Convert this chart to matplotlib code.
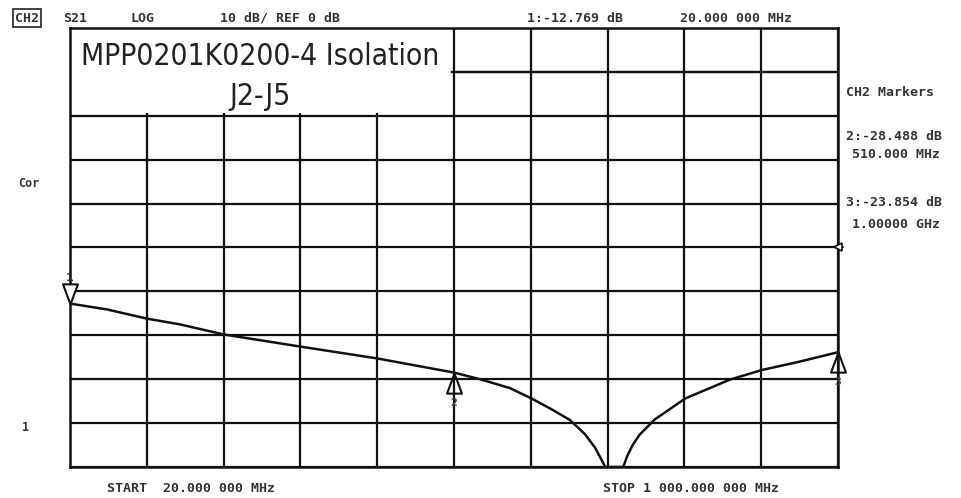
import numpy as np
import matplotlib.pyplot as plt
from matplotlib.patches import Rectangle
from matplotlib import font_manager

# S21 trace (MHz, dB)
freq_mhz = [20, 67, 118, 160, 216, 315, 413, 510, 543, 581, 609, 635, 658, 677,
            690, 696, 703, 726, 731, 738, 747, 766, 805, 862, 903, 951, 1000]
s21_db = [-12.77, -14.1, -16.2, -17.5, -19.8, -22.6, -25.3, -28.49, -30.0, -32.0,
          -34.4, -36.9, -39.3, -42.5, -45.6, -47.6, -50.0, -50.0, -47.5, -45.0,
          -42.6, -39.2, -34.4, -30.1, -27.9, -26.0, -23.85]

marker_freq = [20, 510, 1000]
marker_db = [-12.769, -28.488, -23.854]
marker_names = ['1', '2', '3']

W, H = 961, 498
fig = plt.figure(figsize=(W / 100, H / 100), dpi=100)
ax = fig.add_axes([70 / W, 1 - 467 / H, (838 - 70) / W, (467 - 28) / H])

ax.set_xlim(20, 1000)
ax.set_ylim(-50, 50)
ax.set_xticks(np.linspace(20, 1000, 11))
ax.set_yticks(np.linspace(-50, 50, 11))
ax.set_xticklabels([])
ax.set_yticklabels([])
ax.tick_params(length=0)
ax.set_axisbelow(True)
ax.grid(True, color='#111111', lw=1.6)
for s in ax.spines.values():
    s.set_color('#111111')
    s.set_linewidth(1.8)

# title font: a narrow face if one is there, else shrink DejaVu a bit
names = {f.name for f in font_manager.fontManager.ttflist}
condensed = [f for f in font_manager.fontManager.ttflist
             if f.name == 'DejaVu Sans' and f.stretch == 'condensed' and f.weight == 400]
if 'Liberation Sans Narrow' in names:
    title_font = dict(family='Liberation Sans Narrow', fontsize=24)
elif condensed:
    title_font = dict(family='DejaVu Sans', fontstretch='condensed', fontsize=21.5)
else:
    title_font = dict(family='DejaVu Sans', fontsize=19)

# white label box over the top-left grid cells
ax.add_patch(Rectangle((21, 30.6), 487, 19.4, facecolor='white', edgecolor='none', zorder=1))
ax.text(263, 43.4, 'MPP0201K0200-4 Isolation', ha='center', va='center',
        color='#222222', zorder=3, **title_font)
ax.text(263, 34.4, 'J2-J5', ha='center', va='center',
        color='#222222', zorder=3, **title_font)
ax.plot([508, 1000], [40, 40], color='#111111', lw=1.6, zorder=1.5)

ax.plot(freq_mhz, s21_db, color='#111111', lw=1.8, zorder=3)

# marker triangles
down_tri = [(0, 0), (-0.37, 1), (0.37, 1), (0, 0)]
up_tri = [(0, 0), (-0.37, -1), (0.37, -1), (0, 0)]
for i, (f, d, n) in enumerate(zip(marker_freq, marker_db, marker_names)):
    if i == 0:
        ax.plot(f, d, marker=down_tri, ms=29, mfc='white', mec='#111111', mew=1.5,
                clip_on=False, zorder=4)
        ax.annotate(n, (f, d), xytext=(0, 26), textcoords='offset pixels', ha='center',
                    va='center', fontsize=8, fontweight='bold', color='#222222')
    else:
        ax.plot(f, d, marker=up_tri, ms=29, mfc='none', mec='#111111', mew=1.5,
                clip_on=False, zorder=4)
        ax.annotate(n, (f, d), xytext=(0, -30), textcoords='offset pixels', ha='center',
                    va='center', fontsize=7, fontweight='bold', color='#444444')

# reference level pointer on the right edge
ax.plot(1000, 0, marker='<', ms=6, mfc='white', mec='#111111', mew=1.2,
        clip_on=False, zorder=4)
ax.plot([1000, 1006], [0, 0], color='#111111', lw=1.2, clip_on=False)

mono = dict(family='DejaVu Sans Mono', fontweight='bold', color='#333333', fontsize=9.5,
            va='center', ha='left')


def put(x, y, s, **kw):
    opts = dict(mono)
    opts.update(kw)
    fig.text(x / W, 1 - y / H, s, **opts)


put(15, 18, 'CH2', bbox=dict(facecolor='white', edgecolor='#222222', lw=1.2, pad=1.5))
put(63, 18, 'S21')
put(130, 18, 'LOG')
put(220, 18, '10 dB/ REF 0 dB')
put(527, 18, '1:-12.769 dB')
put(680, 18, '20.000 000 MHz')

put(846, 93, 'CH2 Markers')
put(846, 136, '2:-28.488 dB')
put(852, 155, '510.000 MHz')
put(846, 203, '3:-23.854 dB')
put(852, 224, '1.00000 GHz')

put(18, 183, 'Cor', fontsize=8.5)
put(22, 427, '1', fontsize=8.5)

put(107, 488, 'START  20.000 000 MHz')
put(603, 488, 'STOP 1 000.000 000 MHz')

fig.savefig('out.png', dpi=100, facecolor='white')
